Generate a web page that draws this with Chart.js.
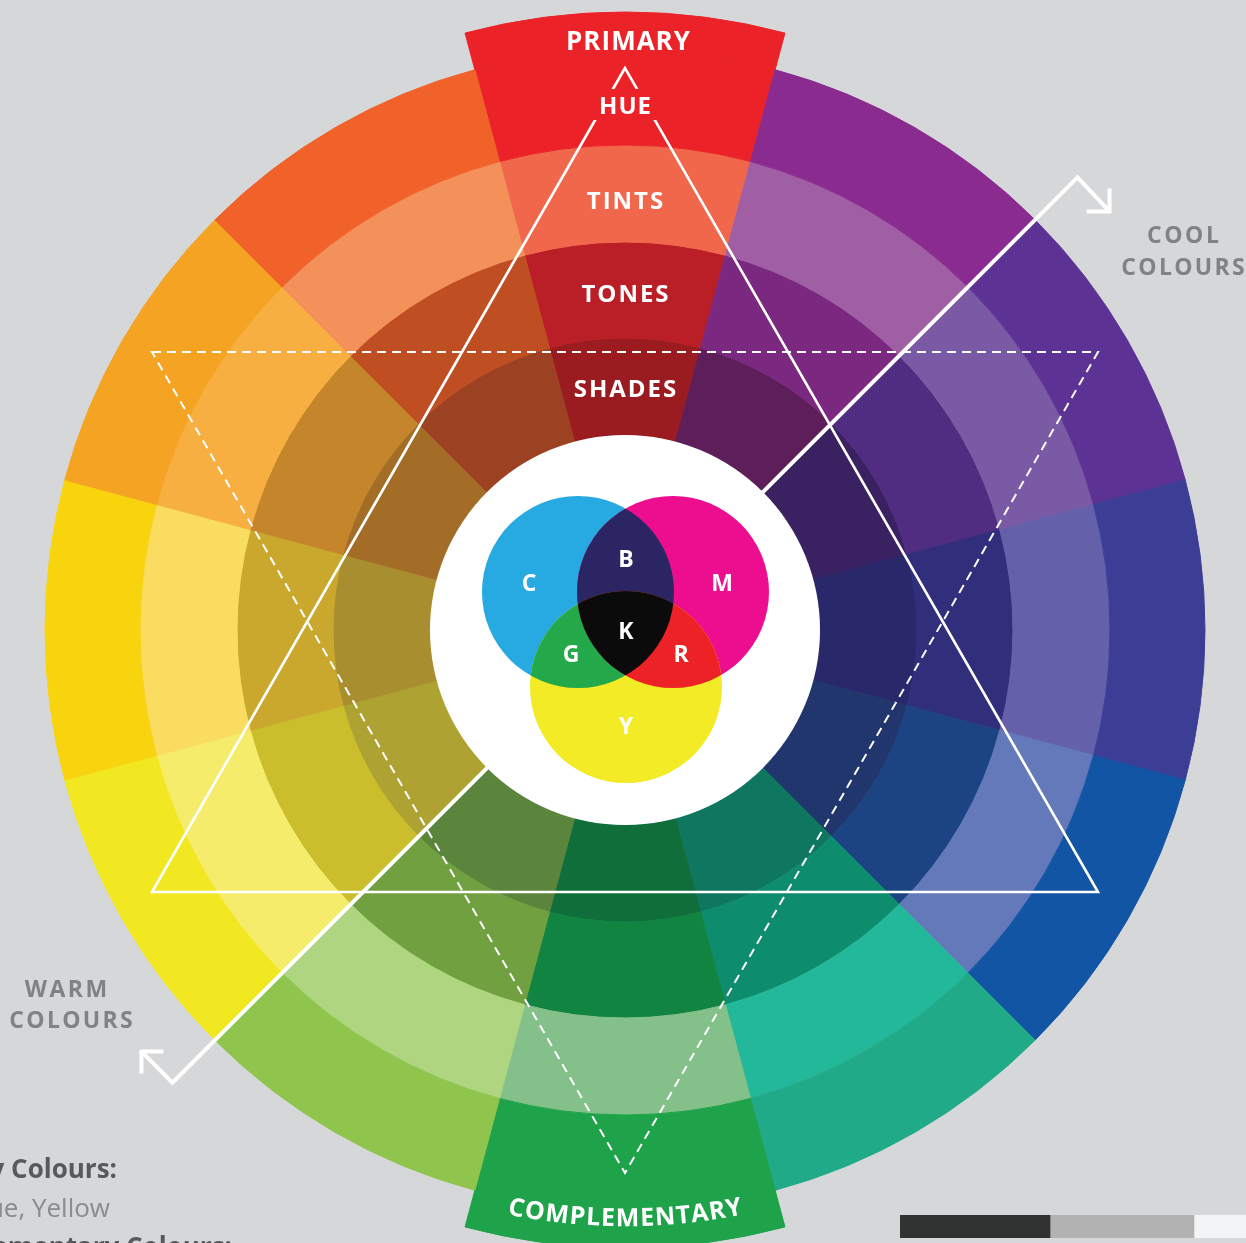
<!DOCTYPE html>
<html>
<head>
<meta charset="utf-8">
<script src="https://cdn.jsdelivr.net/npm/chart.js@4/dist/chart.umd.min.js"></script>
<style>
html,body{margin:0;padding:0;background:#d6d7d8;overflow:hidden;width:1246px;height:1243px;}
#wrap{position:absolute;left:0;top:0;width:1250px;height:1260px;}
#barwrap{position:absolute;left:900px;top:1215px;width:350px;height:23px;}
</style>
</head>
<body>
<div id="wrap"><canvas id="wheel"></canvas></div>
<div id="barwrap"><canvas id="barc"></canvas></div>
<script>
// ---------- DATA ----------
const hues = ['Red','Red-Violet','Violet','Blue-Violet','Blue','Blue-Green','Green','Yellow-Green','Yellow','Yellow-Orange','Orange','Red-Orange'];
const segmentValues = [1,1,1,1,1,1,1,1,1,1,1,1];
const highlightIndex = [0, 6]; // Primary (Red) and its complementary (Green)
const highlightLabels = ['PRIMARY', 'COMPLEMENTARY'];
const hueColors   = ['#ec2229','#8a2b8f','#5c3394','#3c3e96','#1155a4','#20aa88','#1ea24a','#8fc44d','#f2e822','#f8d40f','#f5a322','#f06229'];
const tintColors  = ['#f0674b','#a05fa5','#7b5aa5','#6560aa','#6379ba','#23b89a','#83c08a','#b0d580','#f4ec6a','#f9dc60','#f8af42','#f4915a'];
const toneColors  = ['#ba1f27','#7a2880','#512d82','#312e7c','#1c4482','#0e8c6e','#118442','#70a040','#cabe2c','#c9a82d','#c4852b','#bf4f23'];
const shadeColors = ['#9b1c20','#5e1e5a','#3a2262','#29286a','#20366c','#0f765f','#106e3a','#5b853c','#aea232','#a98e30','#a36d28','#9c4222'];
const ringLabels = ['HUE','TINTS','TONES','SHADES'];
const vennLabels = ['C','M','Y','B','G','R','K'];
const vennColors = {C:'#27a9e1', M:'#ec0e8f', Y:'#f2eb25', B:'#2b2563', G:'#23a84a', R:'#ec2227', K:'#0a0b0a'};
const sideLabels = [['COOL','COLOURS'],['WARM','COLOURS']];
const noteLines = ['Primary Colours:','Red, Blue, Yellow','Complementary Colours:'];
const barSegments = [150, 144, 56];
const barColors = ['#313332','#b2b2b2','#f3f4f6'];

// ---------- HELPERS ----------
const FONT = '"Open Sans", "Noto Sans", sans-serif';
function spacedText(ctx, text, x, y, spacing, align) {
  const chars = [...text];
  const widths = chars.map(c => ctx.measureText(c).width);
  const total = widths.reduce((a,b)=>a+b,0) + spacing*(chars.length-1);
  let px = align === 'right' ? x - total : (align === 'left' ? x : x - total/2);
  ctx.textAlign = 'left';
  chars.forEach((c,i)=>{ ctx.fillText(c, px, y); px += widths[i] + spacing; });
}
function arcTextBottom(ctx, text, cx, cy, r, spacing) {
  const chars = [...text];
  const widths = chars.map(c => ctx.measureText(c).width);
  const total = widths.reduce((a,b)=>a+b,0) + spacing*(chars.length-1);
  let a = Math.PI/2 + total/(2*r);
  ctx.textAlign = 'center';
  ctx.textBaseline = 'middle';
  chars.forEach((c,i)=>{
    const mid = a - widths[i]/(2*r);
    ctx.save();
    ctx.translate(cx + r*Math.cos(mid), cy + r*Math.sin(mid));
    ctx.rotate(mid - Math.PI/2);
    ctx.fillText(c, 0, 0);
    ctx.restore();
    a -= (widths[i] + spacing)/r;
  });
}

const decorPlugin = {
  id: 'decor',
  afterDatasetsDraw(chart) {
    const ctx = chart.ctx;
    const arc = chart.getDatasetMeta(1).data[0];
    const cx = arc.x, cy = arc.y;
    const R = chart.getDatasetMeta(1).controller.outerRadius; // hue ring outer radius
    const rIn = chart.getDatasetMeta(4).controller.innerRadius;
    const s = R / 580;
    ctx.save();
    ctx.strokeStyle = '#ffffff';
    ctx.lineJoin = 'miter';

    // solid triangle (with gap around HUE label)
    ctx.save();
    ctx.beginPath();
    ctx.rect(0, 0, chart.width, chart.height);
    ctx.rect(cx - 50*s, cy - 541*s, 100*s, 31*s);
    ctx.clip('evenodd');
    ctx.lineWidth = 2.6;
    ctx.beginPath();
    ctx.moveTo(cx, cy - 562*s);
    ctx.lineTo(cx - 473*s, cy + 262*s);
    ctx.lineTo(cx + 473*s, cy + 262*s);
    ctx.closePath();
    ctx.stroke();
    ctx.restore();

    // dashed triangle
    ctx.save();
    ctx.lineWidth = 2;
    ctx.setLineDash([9, 6]);
    ctx.beginPath();
    ctx.moveTo(cx - 473*s, cy - 278*s);
    ctx.lineTo(cx + 473*s, cy - 278*s);
    ctx.lineTo(cx, cy + 543*s);
    ctx.closePath();
    ctx.stroke();
    ctx.restore();

    // diagonal warm/cool arrow
    ctx.lineWidth = 4;
    const d = 640*s/Math.SQRT2;
    ctx.beginPath();
    ctx.moveTo(cx - d - 31*s, cy + d - 31*s);
    ctx.lineTo(cx - d, cy + d);
    ctx.lineTo(cx + d, cy - d);
    ctx.lineTo(cx + d + 32*s, cy - d + 34*s);
    ctx.stroke();
    // arrowheads
    ctx.beginPath();
    const ax = cx + d + 32*s, ay = cy - d + 34*s;
    ctx.moveTo(ax - 23*s, ay); ctx.lineTo(ax, ay); ctx.lineTo(ax, ay - 23*s);
    const bx = cx - d - 31*s, by = cy + d - 31*s;
    ctx.moveTo(bx + 22*s, by); ctx.lineTo(bx, by); ctx.lineTo(bx, by + 22*s);
    ctx.stroke();

    // white centre
    ctx.fillStyle = '#ffffff';
    ctx.beginPath(); ctx.arc(cx, cy, rIn, 0, Math.PI*2); ctx.fill();

    // venn
    const vr = 96*s;
    const P = {C:[cx - 47*s, cy - 38*s], M:[cx + 48*s, cy - 38*s], Y:[cx + 1*s, cy + 57*s]};
    const circ = k => { ctx.beginPath(); ctx.arc(P[k][0], P[k][1], vr, 0, Math.PI*2); };
    ['C','M','Y'].forEach(k => { ctx.fillStyle = vennColors[k]; circ(k); ctx.fill(); });
    const inter = (clips, fillK, col) => {
      ctx.save();
      clips.forEach(k => { circ(k); ctx.clip(); });
      ctx.fillStyle = col; circ(fillK); ctx.fill();
      ctx.restore();
    };
    inter(['C'], 'M', vennColors.B);
    inter(['C'], 'Y', vennColors.G);
    inter(['M'], 'Y', vennColors.R);
    inter(['C','M'], 'Y', vennColors.K);
    ctx.fillStyle = '#ffffff';
    ctx.font = '700 23px ' + FONT;
    ctx.textAlign = 'center'; ctx.textBaseline = 'middle';
    const lp = {C:[-96,-46], M:[97,-46], Y:[1,97], B:[1,-70], G:[-54,25], R:[56,25], K:[1,2]};
    vennLabels.forEach(k => ctx.fillText(k, cx + lp[k][0]*s, cy + lp[k][1]*s));

    // ring labels
    ctx.textBaseline = 'alphabetic';
    const ringR = [525, 430, 337, 242];
    const ringSp = [1, 2, 2, 2];
    ctx.font = '700 24px ' + FONT;
    ringLabels.forEach((t,i) => spacedText(ctx, t, cx, cy - ringR[i]*s + 8.5, ringSp[i], 'center'));

    // primary / complementary
    ctx.font = '700 26px ' + FONT;
    spacedText(ctx, highlightLabels[0], cx + 3, cy - 590*s + 9.5, 1, 'center');
    ctx.font = '700 25px ' + FONT;
    arcTextBottom(ctx, highlightLabels[1], cx, cy, 589*s, 0.8);

    // side labels
    ctx.fillStyle = '#808284';
    ctx.textBaseline = 'alphabetic';
    ctx.font = '700 23px ' + FONT;
    spacedText(ctx, sideLabels[0][0], cx + 558*s, cy - 387*s, 2.5, 'center');
    spacedText(ctx, sideLabels[0][1], cx + 558*s, cy - 355*s, 2.3, 'center');
    spacedText(ctx, sideLabels[1][0], cx - 559*s, cy + 367*s, 2.5, 'center');
    spacedText(ctx, sideLabels[1][1], cx - 554*s, cy + 398*s, 2.3, 'center');

    // cut-off note text
    ctx.font = '700 26px ' + FONT;
    ctx.fillStyle = '#58595b';
    spacedText(ctx, noteLines[0], 117, 1178, 0, 'right');
    ctx.font = '400 26px ' + FONT;
    ctx.fillStyle = '#8a8b8d';
    spacedText(ctx, noteLines[1], 110, 1217, 0, 'right');
    ctx.font = '700 26px ' + FONT;
    ctx.fillStyle = '#58595b';
    spacedText(ctx, noteLines[2], 232, 1256, 0, 'right');
    ctx.restore();
  }
};

const transparent = 'rgba(0,0,0,0)';
const highlightColors = segmentValues.map((v,i) => highlightIndex.includes(i) ? hueColors[i] : transparent);
const ring = (label, colors, weight) => ({
  label, data: segmentValues, backgroundColor: colors, borderColor: colors,
  borderWidth: 1, weight, hoverOffset: 0
});

new Chart(document.getElementById('wheel'), {
  type: 'doughnut',
  data: {
    labels: hues,
    datasets: [
      ring('Highlight', highlightColors, 38),
      ring('Hue', hueColors, 95),
      ring('Tints', tintColors, 97),
      ring('Tones', toneColors, 96),
      ring('Shades', shadeColors, 97)
    ]
  },
  options: {
    responsive: true,
    maintainAspectRatio: false,
    animation: false,
    radius: 618,
    cutout: (195/618*100) + '%',
    rotation: -15,
    layout: { padding: 0 },
    events: [],
    plugins: { legend: { display: false }, tooltip: { enabled: false } }
  },
  plugins: [decorPlugin]
});

new Chart(document.getElementById('barc'), {
  type: 'bar',
  data: {
    labels: [''],
    datasets: barSegments.map((v,i) => ({ data: [v], backgroundColor: barColors[i], borderWidth: 0, barPercentage: 1, categoryPercentage: 1 }))
  },
  options: {
    indexAxis: 'y',
    responsive: true,
    maintainAspectRatio: false,
    animation: false,
    events: [],
    layout: { padding: 0 },
    plugins: { legend: { display: false }, tooltip: { enabled: false } },
    scales: { x: { stacked: true, display: false, min: 0, max: 350 }, y: { stacked: true, display: false } }
  }
});
</script>
</body>
</html>
